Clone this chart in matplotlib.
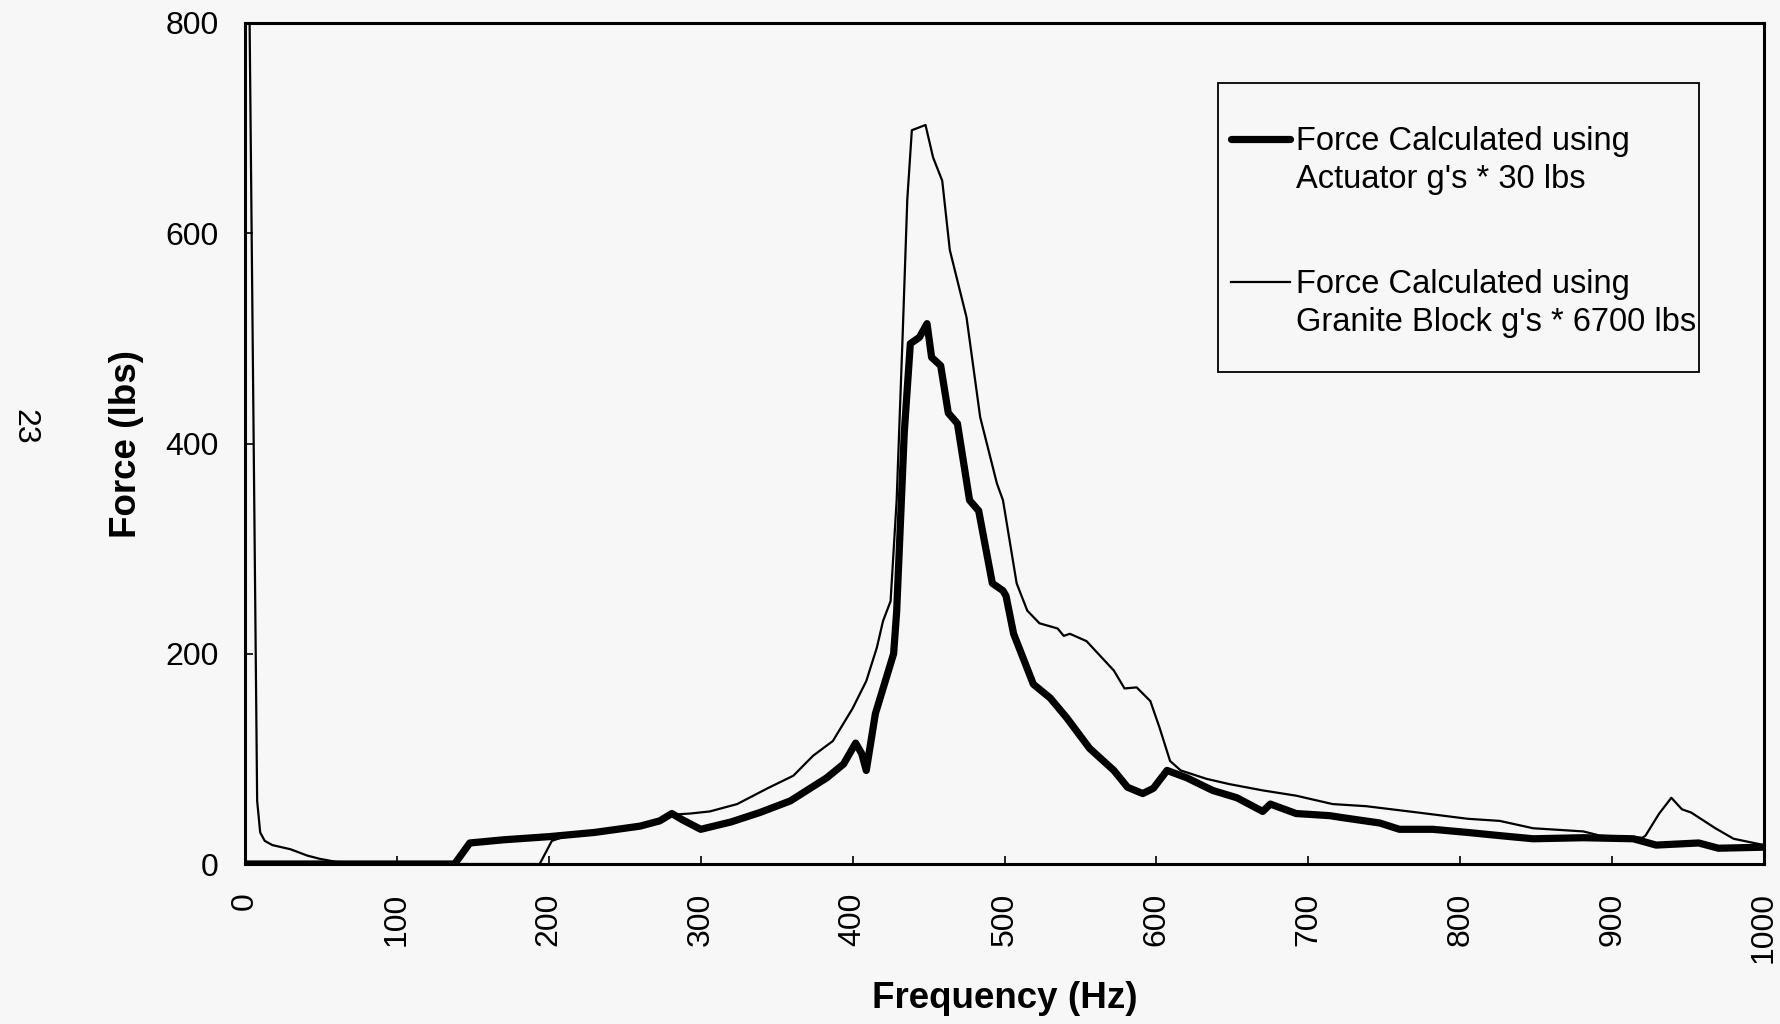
import matplotlib
matplotlib.use("Agg")
import matplotlib.pyplot as plt
from matplotlib.patches import Rectangle

# ---- data ----
freq_actuator = [0, 50, 100, 138, 143, 148, 170, 200, 230, 260, 273, 281, 288, 300, 320,
                 339, 359, 383, 394, 402, 406, 409, 415, 419, 427, 429, 434, 438, 444, 449,
                 452, 458, 463, 469, 477, 483, 492, 499, 501, 506, 519, 530, 541, 556, 572,
                 581, 591, 598, 607, 620, 637, 653, 670, 675, 692, 714, 723, 747, 760, 782,
                 805, 826, 848, 881, 914, 929, 957, 970, 1000]
force_actuator = [0, 0, 0, 0, 10, 20, 23, 26, 30, 36, 41, 48, 42, 33, 40,
                  49, 60, 82, 95, 115, 105, 89, 143, 162, 200, 240, 410, 495, 501, 514,
                  482, 474, 429, 419, 346, 336, 267, 260, 255, 219, 171, 158, 139, 110, 89,
                  73, 67, 72, 89, 82, 70, 63, 50, 57, 48, 46, 44, 39, 33, 33,
                  30, 27, 24, 25, 24, 18, 20, 15, 16]

freq_granite = [3, 8, 10, 13, 18, 30, 41, 49, 60, 80, 100, 194, 202, 210, 230, 260, 273, 282,
                293, 306, 324, 344, 361, 374, 387, 400, 409, 416, 420, 425, 429, 433, 436,
                439, 448, 453, 459, 464, 475, 484, 495, 499, 508, 515, 523, 535, 539, 543,
                554, 572, 579, 587, 596, 602, 609, 616, 633, 648, 670, 692, 716, 738, 772,
                805, 826, 848, 881, 892, 920, 922, 931, 939, 946, 952, 968, 980, 1000]
force_granite = [805, 60, 30, 22, 18, 14, 8, 5, 2, 1, 0, 0, 22, 26, 29, 36, 41, 47,
                 48, 50, 57, 72, 84, 103, 117, 148, 174, 206, 231, 250, 346, 505, 632,
                 698, 703, 672, 650, 584, 520, 425, 362, 346, 267, 241, 229, 224, 217, 219,
                 212, 184, 167, 168, 155, 130, 98, 89, 81, 76, 70, 65, 57, 55, 49,
                 43, 41, 34, 31, 27, 25, 27, 48, 63, 52, 49, 34, 24, 18]

x_ticks = [0, 100, 200, 300, 400, 500, 600, 700, 800, 900, 1000]
y_ticks = [0, 200, 400, 600, 800]

label_actuator = ["Force Calculated using", "Actuator g's * 30 lbs"]
label_granite = ["Force Calculated using", "Granite Block g's * 6700 lbs"]

# ---- figure ----
plt.rcParams['font.family'] = ['Liberation Sans', 'DejaVu Sans']
W, H = 1780, 1024
bg = '#f7f7f7'
fig = plt.figure(figsize=(W / 100, H / 100), dpi=100, facecolor=bg)
ax = fig.add_axes([245 / W, 1 - 864 / H, (1764 - 245) / W, (864 - 23) / H], facecolor=bg)

l1, = ax.plot(freq_actuator, force_actuator, color='black', lw=5.2,
              solid_joinstyle='round', solid_capstyle='round', zorder=3)
l2, = ax.plot(freq_granite, force_granite, color='black', lw=1.6, zorder=4)

ax.set_xlim(0, 1000)
ax.set_ylim(0, 800)
ax.set_xticks(x_ticks)
ax.set_yticks(y_ticks)
ax.set_xticklabels([str(v) for v in x_ticks], rotation=90)
ax.tick_params(axis='both', direction='in', length=6, width=1.2, labelsize=23)
ax.tick_params(axis='x', pad=20.5)
ax.tick_params(axis='y', pad=19)
for s in ax.spines.values():
    s.set_linewidth(2.2)

ax.set_xlabel('Frequency (Hz)', fontsize=26.5, fontweight='bold', va='center')
ax.set_ylabel('Force (lbs)', fontsize=26.5, fontweight='bold', va='center')
ax.xaxis.set_label_coords(0.5, (864 - 999) / (864 - 23))
ax.yaxis.set_label_coords((127 - 245) / (1764 - 245), 0.5)

# legend frame and legend
fig.patches.append(Rectangle((1218 / W, 1 - 372 / H), (1699 - 1218) / W, (372 - 83) / H,
                             transform=fig.transFigure, facecolor=bg, edgecolor='black',
                             lw=1.3, zorder=5))
leg_fs = 23.5
leg = fig.legend([l1, l2], [label_actuator[0], label_granite[0]], loc='upper left',
                 bbox_to_anchor=(1231 / W, 1 - 126 / H), frameon=False, fontsize=leg_fs,
                 handlelength=1.8, handletextpad=0.18, labelspacing=3.44, borderpad=0,
                 borderaxespad=0)
leg.set_zorder(6)

# second lines of the legend labels, placed under the first lines
fig.canvas.draw()
renderer = fig.canvas.get_renderer()
for txt, second in zip(leg.get_texts(), [label_actuator[1], label_granite[1]]):
    bb = txt.get_window_extent(renderer)
    fig.text(bb.x0 / W, (bb.y0 + bb.y1) / 2 / H - 38 / H, second, fontsize=leg_fs,
             ha='left', va='center', zorder=7)

fig.text(24 / W, 1 - 427 / H, '23', rotation=-90, fontsize=23, ha='center', va='center')

fig.savefig('out.png', dpi=100, facecolor=bg)
